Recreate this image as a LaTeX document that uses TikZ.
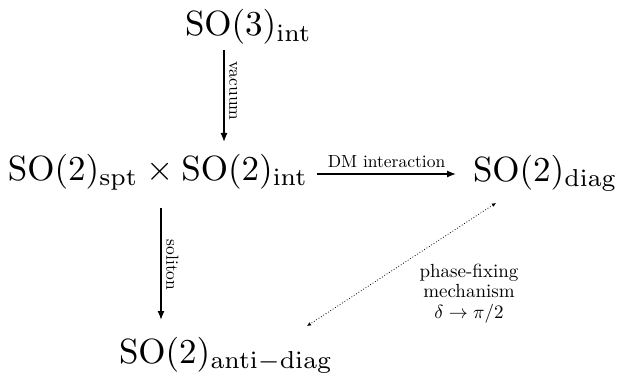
\documentclass[tikz,border=0pt]{standalone}
\usetikzlibrary{arrows.meta}
\newcommand{\bigtxt}[1]{\scalebox{3.5}{#1}}
\newcommand{\labtxt}[1]{\scalebox{1.75}{#1}}
\begin{document}
\begin{tikzpicture}[x=1pt,y=1pt,
  big/.style={inner sep=0pt,outer sep=0pt},
  lab/.style={inner sep=0pt},
  mainarrow/.style={line width=1.3pt,-{Latex[length=9pt,width=7pt]}},
  dotarrow/.style={line width=0.8pt,dotted,{Latex[length=4pt,width=4pt]}-{Latex[length=4pt,width=4pt]}}]
\useasboundingbox (0,0) rectangle (618,-377);
\node[big,anchor=base west] (top) at (185,-36) {\bigtxt{$\mathrm{SO}(3)_{\mathrm{int}}$}};
\node[big,anchor=base west] (mid) at (8,-180) {\bigtxt{$\mathrm{SO}(2)_{\mathrm{spt}}\times\mathrm{SO}(2)_{\mathrm{int}}$}};
\node[big,anchor=base west] (diag) at (473,-181) {\bigtxt{$\mathrm{SO}(2)_{\mathrm{diag}}$}};
\node[big,anchor=base west] (anti) at (119,-363) {\bigtxt{$\mathrm{SO}(2)_{\mathrm{anti-diag}}$}};
\coordinate (v1) at (224,-50);
\coordinate (v2) at (224,-142);
\coordinate (d1) at (317,-174);
\coordinate (d2) at (456,-174);
\coordinate (s1) at (161,-208);
\coordinate (s2) at (161,-320);
\coordinate (p1) at (496,-203);
\coordinate (p2) at (307,-326);
\draw[mainarrow] (v1) -- (v2);
\node[lab,rotate=-90,anchor=south] (vl) at (229,-91) {\labtxt{vacuum}};
\draw[mainarrow] (d1) -- node[lab,above=6pt] (dl) {\labtxt{DM interaction}} (d2);
\draw[mainarrow] (s1) -- (s2);
\node[lab,rotate=-90,anchor=south] (sl) at (166,-265) {\labtxt{soliton}};
\draw[dotarrow] (p1) -- (p2);
\node[lab] (pl) at (469,-293.5) {\scalebox{1.9}{\renewcommand{\arraystretch}{0.9}\begin{tabular}{@{}c@{}}phase-fixing\\mechanism\\$\delta\to\pi/2$\end{tabular}}};
\end{tikzpicture}
\end{document}
